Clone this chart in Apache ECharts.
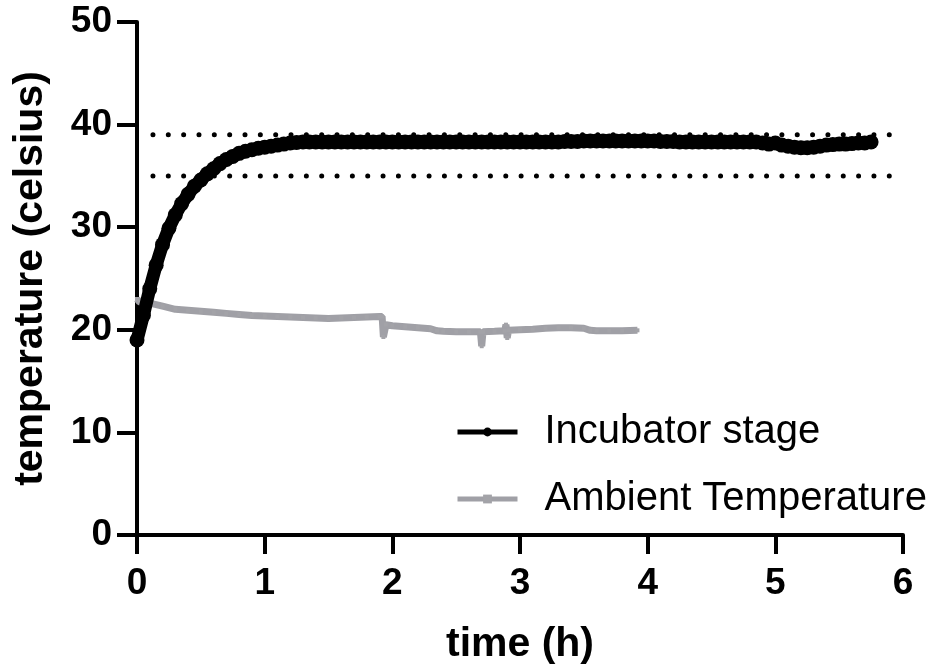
<!DOCTYPE html>
<html>
<head>
<meta charset="utf-8">
<script src="https://cdn.jsdelivr.net/npm/echarts@6/dist/echarts.min.js"></script>
<style>html,body{margin:0;padding:0;background:#fff}#c{width:935px;height:670px}</style>
</head>
<body>
<div id="c"></div>
<script>
// Incubator stage: time step 0.05 h starting at 0
const incubatorStep = 0.05;
const incubatorTemp = [
  19.0, 21.4, 24.0, 26.3, 28.3, 29.9, 31.2, 32.3, 33.2, 34.0,
  34.6, 35.2, 35.7, 36.2, 36.6, 36.9, 37.2, 37.4, 37.55, 37.7,
  37.8, 37.9, 38.0, 38.1, 38.2, 38.25, 38.3, 38.3, 38.3, 38.3,
  38.3, 38.3, 38.3, 38.3, 38.3, 38.3, 38.3, 38.3, 38.3, 38.3,
  38.3, 38.3, 38.3, 38.3, 38.3, 38.3, 38.3, 38.3, 38.3, 38.3,
  38.3, 38.3, 38.3, 38.3, 38.3, 38.3, 38.3, 38.3, 38.3, 38.3,
  38.3, 38.3, 38.3, 38.3, 38.3, 38.3, 38.3, 38.35, 38.35, 38.35,
  38.4, 38.4, 38.4, 38.4, 38.4, 38.4, 38.4, 38.4, 38.4, 38.4,
  38.4, 38.4, 38.35, 38.35, 38.35, 38.3, 38.3, 38.3, 38.3, 38.3,
  38.3, 38.3, 38.3, 38.3, 38.3, 38.3, 38.3, 38.3, 38.2, 38.1,
  38.2, 38.0, 37.9, 37.8, 37.75, 37.75, 37.8, 37.9, 38.0, 38.05,
  38.1, 38.1, 38.15, 38.2, 38.2, 38.3
];
// Ambient temperature: time (h) and temperature
const ambientTime = [0, 0.02, 0.1, 0.2, 0.3, 0.4, 0.5, 0.6, 0.7, 0.8, 0.9, 1.0, 1.1, 1.2, 1.3, 1.4, 1.5, 1.6, 1.7, 1.8, 1.9, 1.92, 1.93, 1.95, 2.0, 2.1, 2.2, 2.3, 2.35, 2.4, 2.5, 2.6, 2.69, 2.7, 2.71, 2.8, 2.88, 2.89, 2.9, 2.91, 3.0, 3.1, 3.2, 3.3, 3.4, 3.5, 3.55, 3.6, 3.7, 3.8, 3.92];
const ambientTemp = [23.0, 22.7, 22.6, 22.3, 22.0, 21.9, 21.8, 21.7, 21.6, 21.5, 21.4, 21.35, 21.3, 21.25, 21.2, 21.15, 21.1, 21.15, 21.2, 21.25, 21.3, 21.3, 19.3, 20.5, 20.4, 20.3, 20.2, 20.1, 19.9, 19.85, 19.8, 19.8, 19.8, 18.4, 19.8, 19.85, 19.9, 20.5, 19.2, 19.95, 20.0, 20.05, 20.15, 20.2, 20.2, 20.15, 19.95, 19.9, 19.9, 19.9, 19.95];
// reference limits
const limitUpper = 39;
const limitLower = 35;
const limitRange = [0.125, 5.9];
const xTicks = [0, 1, 2, 3, 4, 5, 6];
const yTicks = [0, 10, 20, 30, 40, 50];

const incubatorData = incubatorTemp.map((v, i) => [+(i * incubatorStep).toFixed(2), v]);
const ambientData = ambientTime.map((t, i) => [t, ambientTemp[i]]);

const FONT = 'Liberation Sans, Arial, sans-serif';
const chart = echarts.init(document.getElementById('c'));
chart.setOption({
  animation: false,
  backgroundColor: '#fff',
  grid: { left: 137, right: 32, top: 22, bottom: 133 },
  xAxis: {
    type: 'value', min: xTicks[0], max: xTicks[xTicks.length - 1], interval: 1,
    name: 'time (h)', nameLocation: 'middle', nameGap: 89,
    nameTextStyle: { fontFamily: FONT, fontWeight: 'bold', fontSize: 41, color: '#000' },
    axisLine: { onZero: false, lineStyle: { color: '#000', width: 4 } },
    axisTick: { show: true, length: 19, lineStyle: { color: '#000', width: 4 } },
    axisLabel: { fontFamily: FONT, fontWeight: 'bold', fontSize: 37, color: '#000', margin: 30 },
    splitLine: { show: false }
  },
  yAxis: {
    type: 'value', min: yTicks[0], max: yTicks[yTicks.length - 1], interval: 10,
    name: 'temperature (celsius)', nameLocation: 'middle', nameGap: 86, nameRotate: 90,
    nameTextStyle: { fontFamily: FONT, fontWeight: 'bold', fontSize: 41, color: '#000' },
    axisLine: { show: true, onZero: false, lineStyle: { color: '#000', width: 4 } },
    axisTick: { show: true, length: 20, lineStyle: { color: '#000', width: 4 } },
    axisLabel: { fontFamily: FONT, fontWeight: 'bold', fontSize: 37, color: '#000', margin: 25 },
    splitLine: { show: false }
  },
  legend: {
    data: ['Incubator stage', 'Ambient Temperature'],
    orient: 'vertical', left: 455, top: 412, padding: 0,
    itemWidth: 60, itemHeight: 11, itemGap: 27,
    lineStyle: { width: 5 },
    textStyle: { fontFamily: FONT, fontSize: 40, color: '#000', padding: [0, 0, 0, 22] }
  },
  series: [
    {
      name: 'upper', type: 'line', data: [[limitRange[0], limitUpper], [limitRange[1], limitUpper]],
      symbol: 'none', z: 1, silent: true,
      lineStyle: { color: '#000', width: 5, type: [0.01, 15.33], cap: 'round' }
    },
    {
      name: 'lower', type: 'line', data: [[limitRange[0], limitLower], [limitRange[1], limitLower]],
      symbol: 'none', z: 1, silent: true,
      lineStyle: { color: '#000', width: 5, type: [0.01, 15.33], cap: 'round' }
    },
    {
      name: 'Ambient Temperature', type: 'line', data: ambientData, z: 2,
      symbol: 'rect', symbolSize: 4, showAllSymbol: true,
      itemStyle: { color: '#a3a3a8' },
      lineStyle: { color: '#a0a0a6', width: 7 }
    },
    {
      name: 'Incubator stage', type: 'line', data: incubatorData, z: 3,
      symbol: 'circle', symbolSize: 15, showAllSymbol: true,
      itemStyle: { color: '#000' },
      lineStyle: { color: '#000', width: 13 }
    }
  ]
});
</script>
</body>
</html>
